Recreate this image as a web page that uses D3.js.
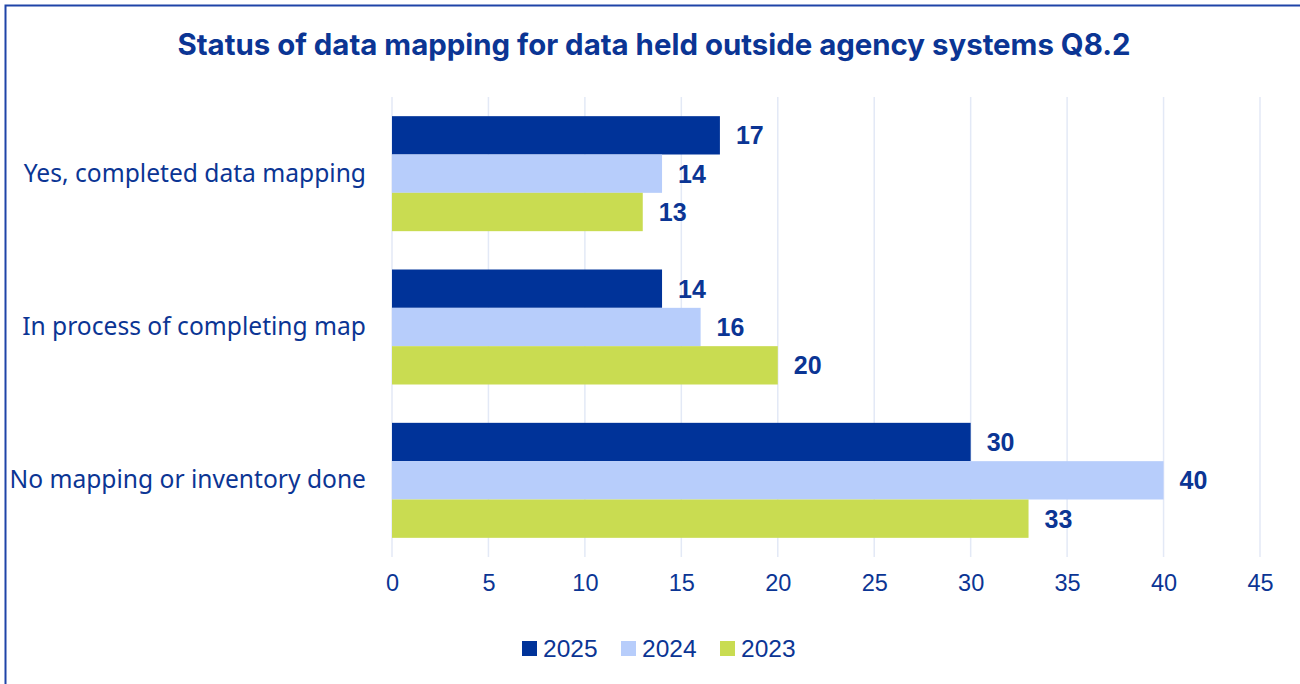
<!DOCTYPE html>
<html>
<head>
<meta charset="utf-8">
<script src="https://cdn.jsdelivr.net/npm/d3@7/dist/d3.min.js"></script>
<style>
  html, body { margin: 0; padding: 0; background: #fff; }
  svg { display: block; }
</style>
</head>
<body>
<svg id="chart" width="1300" height="684"></svg>
<script>
// Survey responses, Q8.2
const categories = ["Yes, completed data mapping", "In process of completing map", "No mapping or inventory done"];
const years = ["2025", "2024", "2023"];
const values2025 = [17, 14, 30];
const values2024 = [14, 16, 40];
const values2023 = [13, 20, 33];
const xTicks = [0, 5, 10, 15, 20, 25, 30, 35, 40, 45];

const seriesValues = { "2025": values2025, "2024": values2024, "2023": values2023 };
const colors = { "2025": "#003399", "2024": "#b7cdfb", "2023": "#c9dc51" };
const textColor = "#0b3594";

const svg = d3.select("#chart");

// outer frame
svg.append("rect")
  .attr("x", 5.5).attr("y", 5.5)
  .attr("width", 1310).attr("height", 700)
  .attr("fill", "none")
  .attr("stroke", "#1f44a8")
  .attr("stroke-width", 2);

svg.append("text")
  .attr("x", 654).attr("y", 55)
  .attr("text-anchor", "middle")
  .attr("font-family", "Inter, 'Liberation Sans', sans-serif")
  .attr("font-weight", 700)
  .attr("font-size", 29.4)
  .attr("fill", "#0b3594")
  .text("Status of data mapping for data held outside agency systems Q8.2");

const plotTop = 97, plotBottom = 557;
const x = d3.scaleLinear().domain([0, 45]).range([392, 1260]);
const y = d3.scaleBand().domain(categories).range([plotTop, plotBottom])
  .paddingInner(0.25).paddingOuter(0.125);
const ySub = d3.scaleBand().domain(years).range([0, y.bandwidth()]);

// vertical gridlines
svg.append("g")
  .selectAll("line")
  .data(xTicks)
  .join("line")
  .attr("x1", d => x(d)).attr("x2", d => x(d))
  .attr("y1", plotTop).attr("y2", plotBottom)
  .attr("stroke", "#e3e9f6")
  .attr("stroke-width", 1.5);

// x axis tick labels
const xAxis = d3.axisBottom(x).tickValues(xTicks).tickSize(0).tickPadding(0);
const gx = svg.append("g").attr("transform", `translate(0,${plotBottom + 26})`).call(xAxis);
gx.select(".domain").remove();
gx.selectAll("text")
  .attr("font-family", "'Liberation Sans', Arial, sans-serif")
  .attr("font-size", 23.5)
  .attr("fill", textColor)
  .attr("dy", "0.36em");

// category labels
const yAxis = d3.axisLeft(y).tickSize(0).tickPadding(26);
const gy = svg.append("g").attr("transform", `translate(${x(0)},0)`).call(yAxis);
gy.select(".domain").remove();
gy.selectAll("text")
  .attr("font-family", "'Noto Sans', 'Open Sans', sans-serif")
  .attr("font-size", 24.6)
  .attr("fill", textColor);

// bars
const groups = svg.append("g")
  .selectAll("g")
  .data(categories)
  .join("g")
  .attr("transform", d => `translate(0,${y(d)})`);

const rows = groups.selectAll("g.bar")
  .data((c, i) => years.map(yr => ({ year: yr, value: seriesValues[yr][i] })))
  .join("g").attr("class", "bar");

rows.append("rect")
  .attr("x", x(0))
  .attr("y", d => ySub(d.year))
  .attr("width", d => x(d.value) - x(0))
  .attr("height", ySub.bandwidth())
  .attr("fill", d => colors[d.year]);

rows.append("text")
  .attr("x", d => x(d.value) + 16)
  .attr("y", d => ySub(d.year) + ySub.bandwidth() / 2)
  .attr("dy", "0.36em")
  .attr("font-family", "'Liberation Sans', Arial, sans-serif")
  .attr("font-weight", 700)
  .attr("font-size", 25)
  .attr("fill", textColor)
  .text(d => d.value);

// legend
const legendX = [522, 621, 720];
const legend = svg.append("g")
  .selectAll("g")
  .data(years)
  .join("g")
  .attr("transform", (d, i) => `translate(${legendX[i]},648)`);
legend.append("rect")
  .attr("x", 0).attr("y", -7)
  .attr("width", 15).attr("height", 15)
  .attr("fill", d => colors[d]);
legend.append("text")
  .attr("x", 21).attr("y", 0)
  .attr("dy", "0.36em")
  .attr("font-family", "'Liberation Sans', Arial, sans-serif")
  .attr("font-size", 24.5)
  .attr("fill", textColor)
  .text(d => d);
</script>
</body>
</html>
